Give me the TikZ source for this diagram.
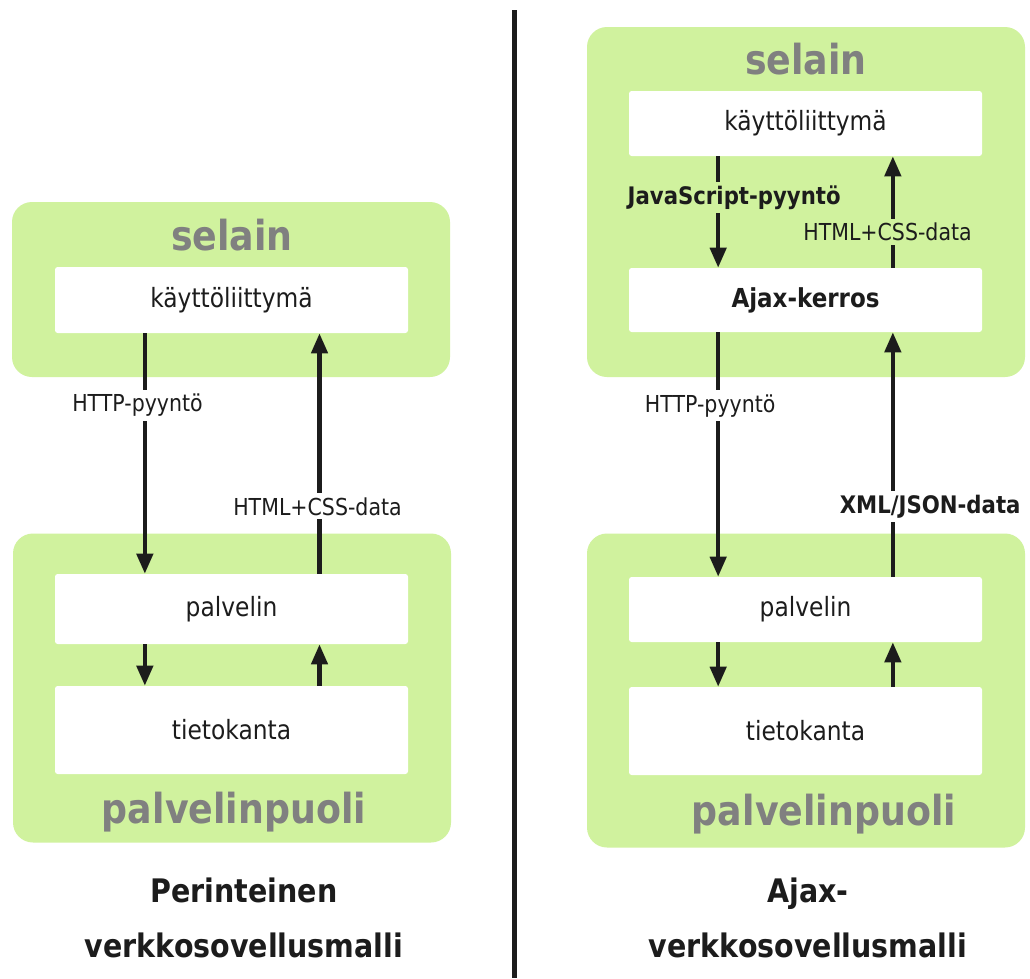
\documentclass[tikz,border=0pt]{standalone}
\usepackage{fontspec}
\setmainfont[FakeStretch=0.88]{DejaVu Sans}
\usetikzlibrary{positioning, arrows.meta}
\definecolor{panelgreen}{RGB}{208,242,158}
\definecolor{titlegray}{RGB}{128,128,128}
\definecolor{ink}{RGB}{28,28,28}
\tikzset{>={Triangle[width=12pt,length=15pt]}}
\tikzset{panel/.style={fill=panelgreen, rounded corners=15pt, minimum width=328.5pt, inner sep=0pt}}
\tikzset{layer/.style={fill=white, rounded corners=2pt, minimum width=264.75pt, text=ink, font=\fontsize{19.9}{22}\selectfont}}

\begin{document}
\begin{tikzpicture}
    [x=0.75pt, y=-0.75pt,
      flow/.style={->, line width=3.2pt, draw=ink},
      lbl/.style={fill=white, inner xsep=2pt, inner ysep=3pt, text=ink, font=\fontsize{17.5}{20}\selectfont},
      boldlbl/.style={lbl, font=\fontsize{18.1}{20}\bfseries},
      heading/.style={anchor=base, text=titlegray, font=\fontsize{31}{34}\bfseries},
      caption/.style={anchor=north, inner sep=0pt, align=center, text=ink, font=\fontsize{24.3}{41}\bfseries}]

    \useasboundingbox[fill=white] (0,0) rectangle (1030,978);

    % perinteinen malli
    \node[panel, minimum height=131.25pt] (selainL) at (231,289.5) {};
    \node[panel, minimum height=231.75pt] (palvelinpuoliL) at (232,688) {};
    \node[heading] (selainTL) at (232,250) {selain};
    \node[heading] (palvelinpuoliTL) at (234,823) {palvelinpuoli};

    \node[layer, minimum height=49.5pt] (kayttoL) at (231.5,300) {käyttöliittymä};
    \node[layer, minimum height=52.5pt] (palvelinL) at (231.5,609) {palvelin};
    \node[layer, minimum height=66pt] (kantaL) at (231.5,730) {tietokanta};

    \draw[flow] ([xshift=-65pt]kayttoL.south) -- node[lbl, pos=0.3, xshift=-5.5pt] {HTTP-pyyntö} ([xshift=-65pt]palvelinL.north);
    \draw[flow] ([xshift=66pt]palvelinL.north) -- node[lbl, pos=0.28, xshift=-1.5pt] {HTML+CSS-data} ([xshift=66pt]kayttoL.south);
    \draw[flow] ([xshift=-65pt]palvelinL.south) -- ([xshift=-65pt]kantaL.north);
    \draw[flow] ([xshift=66pt]kantaL.north) -- ([xshift=66pt]palvelinL.south);

    \node[caption] (perinteinen) at (244,878) {Perinteinen\\verkkosovellusmalli};

    % jakoviiva
    \coordinate (divtop) at (514,10);
    \coordinate (divbot) at (514,978);
    \draw[line width=3.75pt, draw=ink] (divtop) -- (divbot);

    % ajax-malli
    \node[panel, minimum height=262.5pt] (selainR) at (806,202) {};
    \node[panel, minimum height=235.5pt] (palvelinpuoliR) at (806,690.5) {};
    \node[heading] (selainTR) at (806,74) {selain};
    \node[heading] (palvelinpuoliTR) at (824,825) {palvelinpuoli};

    \node[layer, minimum height=48.75pt] (kayttoR) at (805.5,123.5) {käyttöliittymä};
    \node[layer, minimum height=48pt, font=\fontsize{19.6}{22}\bfseries] (ajaxR) at (805.5,300) {Ajax-kerros};
    \node[layer, minimum height=48.75pt] (palvelinR) at (805.5,609.5) {palvelin};
    \node[layer, minimum height=66pt] (kantaR) at (805.5,731) {tietokanta};

    \draw[flow] ([xshift=-65.5pt]kayttoR.south) -- node[boldlbl, fill=panelgreen, pos=0.37, xshift=12pt] {JavaScript-pyyntö} ([xshift=-65.5pt]ajaxR.north);
    \draw[flow] ([xshift=65.5pt]ajaxR.north) -- node[lbl, fill=panelgreen, pos=0.32, xshift=-4pt] {HTML+CSS-data} ([xshift=65.5pt]kayttoR.south);
    \draw[flow] ([xshift=-65.5pt]ajaxR.south) -- node[lbl, pos=0.3, xshift=-6pt] {HTTP-pyyntö} ([xshift=-65.5pt]palvelinR.north);
    \draw[flow] ([xshift=65.5pt]palvelinR.north) -- node[boldlbl, pos=0.286, xshift=28pt] {XML/JSON-data} ([xshift=65.5pt]ajaxR.south);
    \draw[flow] ([xshift=-65.5pt]palvelinR.south) -- ([xshift=-65.5pt]kantaR.north);
    \draw[flow] ([xshift=65.5pt]kantaR.north) -- ([xshift=65.5pt]palvelinR.south);

    \node[caption] (ajaxmalli) at (808,878) {Ajax-\\verkkosovellusmalli};
  \end{tikzpicture}
\end{document}
